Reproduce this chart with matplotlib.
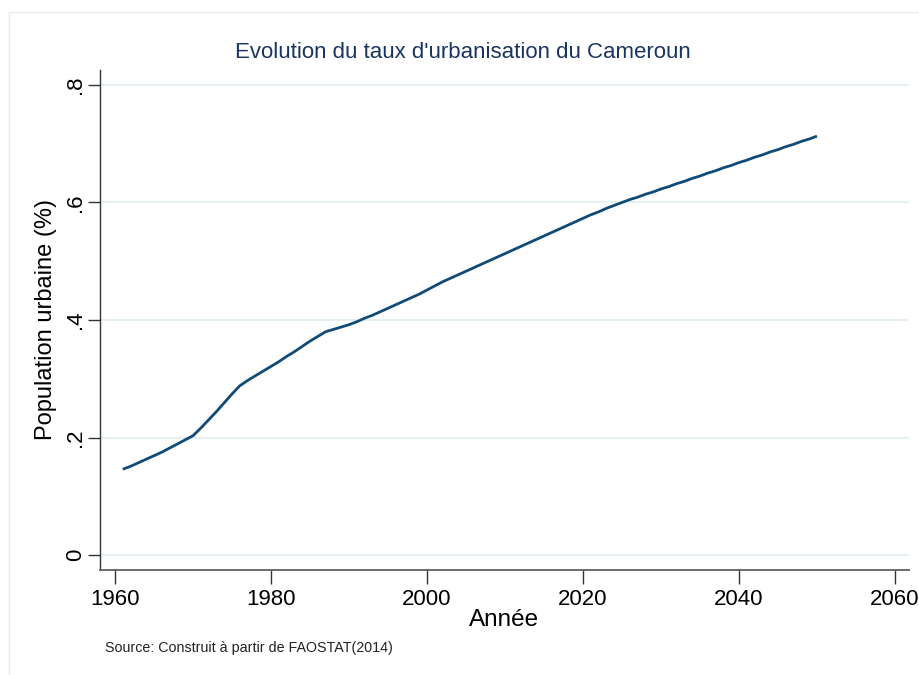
import numpy as np
import matplotlib
matplotlib.use("Agg")
import matplotlib.pyplot as plt
import matplotlib.patches as patches

plt.rcParams['font.family'] = ['Liberation Sans', 'DejaVu Sans']

# ---------------------------------------------------------------------------
# Data (urban share, 1961-2050)
annees = list(range(1961, 2051))
taux_urbain = [
    0.146, 0.151, 0.157, 0.163, 0.169, 0.175, 0.182, 0.189, 0.196, 0.203,  # 1961-1970
    0.216, 0.230, 0.244, 0.259, 0.274, 0.288, 0.297, 0.305, 0.313, 0.321,  # 1971-1980
    0.329, 0.338, 0.346, 0.355, 0.364, 0.372, 0.380, 0.384, 0.388, 0.392,  # 1981-1990
    0.397, 0.403, 0.408, 0.414, 0.420, 0.426, 0.432, 0.438, 0.444, 0.451,  # 1991-2000
    0.458, 0.465, 0.471, 0.477, 0.483, 0.489, 0.495, 0.501, 0.507, 0.513,  # 2001-2010
    0.519, 0.525, 0.531, 0.537, 0.543, 0.549, 0.555, 0.561, 0.567, 0.573,  # 2011-2020
    0.579, 0.584, 0.590, 0.595, 0.600, 0.605, 0.609, 0.614, 0.618, 0.623,  # 2021-2030
    0.627, 0.632, 0.636, 0.641, 0.645, 0.650, 0.654, 0.659, 0.663, 0.668,  # 2031-2040
    0.672, 0.677, 0.681, 0.686, 0.690, 0.695, 0.699, 0.704, 0.708, 0.713,  # 2041-2050
]

x_ticks = [1960, 1980, 2000, 2020, 2040, 2060]
y_ticks = [0, 0.2, 0.4, 0.6, 0.8]
y_labels = ['0', '.2', '.4', '.6', '.8']

# ---------------------------------------------------------------------------
fig = plt.figure(figsize=(9.2, 6.75), dpi=100)
fig.patch.set_facecolor('white')

# faint outer frame like the Stata graph region
fig.patches.append(patches.Rectangle((9 / 920, -0.01), 1.0, 1 - 12 / 675 + 0.01,
                                     transform=fig.transFigure, fill=False,
                                     edgecolor='#e4edf0', linewidth=1.0))

ax = fig.add_axes([100 / 920, 1 - 570 / 675, 809 / 920, 500 / 675])

ax.plot(annees, taux_urbain, color='#104b77', linewidth=2.0, solid_capstyle='butt')

ax.set_xlim(1958.08, 2061.8)
ax.set_ylim(-0.0255, 0.8255)

ax.set_xticks(x_ticks)
ax.set_yticks(y_ticks)
ax.set_yticklabels(y_labels, rotation=90, va='center')

ax.grid(axis='y', color='#e6eff1', linewidth=1.6)
ax.set_axisbelow(True)

for s in ['top', 'right']:
    ax.spines[s].set_visible(False)
ax.spines['bottom'].set_color('#6a6a6a')
ax.spines['bottom'].set_linewidth(1.4)
ax.spines['left'].set_color('#333333')
ax.spines['left'].set_linewidth(1.0)

ax.tick_params(axis='x', length=10, width=1.0, color='#333333', labelsize=16, pad=4)
ax.tick_params(axis='y', length=9, width=1.0, color='#333333', labelsize=16, pad=1)

ax.set_ylabel('Population urbaine (%)', fontsize=17, va='center')
ax.yaxis.set_label_coords((46 - 100) / 809, 0.5)
ax.set_xlabel('Année', fontsize=17.5, va='center')
ax.xaxis.set_label_coords(0.5, (570 - 620) / 500)

fig.text(463 / 920, 1 - 52 / 675, "Evolution du taux d'urbanisation du Cameroun",
         ha='center', va='center', fontsize=16, color='#1a3560')
fig.text(105 / 920, 1 - 648 / 675, 'Source: Construit à partir de FAOSTAT(2014)',
         ha='left', va='center', fontsize=10.3, color='#222222')

fig.savefig('out.png', dpi=100)
